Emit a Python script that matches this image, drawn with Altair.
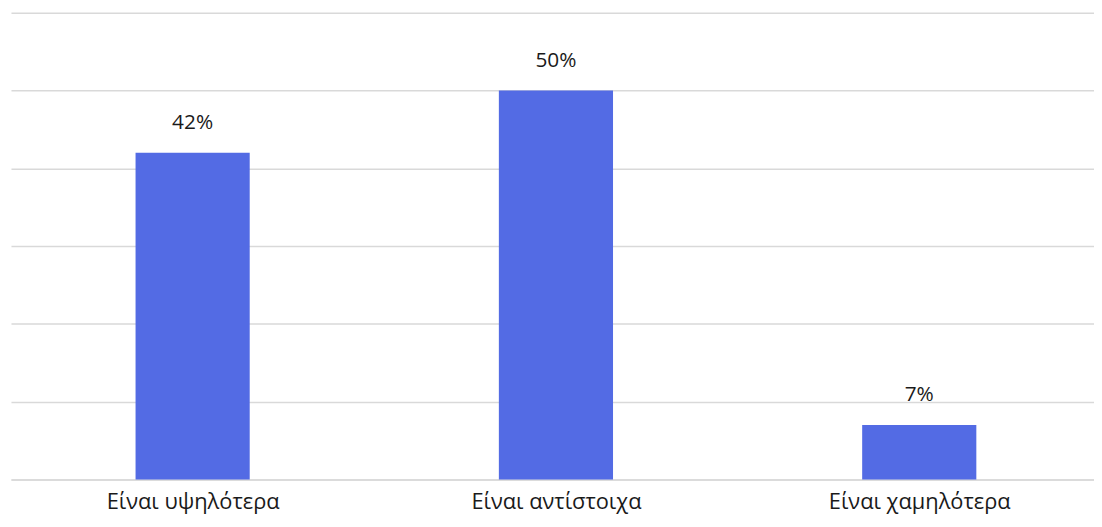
import altair as alt
import pandas as pd

categories = ["Είναι υψηλότερα", "Είναι αντίστοιχα", "Είναι χαμηλότερα"]
values = [0.42, 0.50, 0.07]
labels = ["42%", "50%", "7%"]

df = pd.DataFrame({"idx": list(range(len(categories))), "cat": categories, "val": values, "lab": labels})

FONT = "Open Sans"
cat_array = "[" + ",".join("'" + c + "'" for c in categories) + "]"

x = alt.X("idx:Q", title=None,
          scale=alt.Scale(domain=[-0.5, 2.481], nice=False, zero=False, padding=0),
          axis=alt.Axis(values=[0, 1, 2], labelExpr=cat_array + "[datum.value]",
                        labelAngle=0, labelFontSize=22, labelFont=FONT, labelColor="#1a1a1a",
                        labelLimit=0, labelFlush=False, labelOverlap=False, grid=False,
                        ticks=False, domainColor="#d9d9d9", domainWidth=1.5,
                        labelBaseline="alphabetic", labelPadding=29))
y = alt.Y("val:Q", title=None,
          scale=alt.Scale(domain=[0, 0.6], nice=False),
          axis=alt.Axis(values=[0, 0.1, 0.2, 0.3, 0.4, 0.5, 0.6], labels=False, ticks=False,
                        domain=False, gridColor="#d9d9d9", gridWidth=1.5))

bars = alt.Chart(df).mark_bar(color="#536be4", size=115).encode(x=x, y=y)
text = alt.Chart(df).mark_text(baseline="alphabetic", dy=-24, fontSize=21, font=FONT, color="#1a1a1a").encode(
    x="idx:Q", y="val:Q", text="lab:N")

chart = (bars + text).properties(
    width=1091, height=470,
    padding={"left": 3, "top": 3, "right": 0, "bottom": 34},
    autosize=alt.AutoSizeParams(type="none"),
).configure_view(stroke=None)

chart.save("out.html", embed_options={"renderer": "svg", "actions": False})
